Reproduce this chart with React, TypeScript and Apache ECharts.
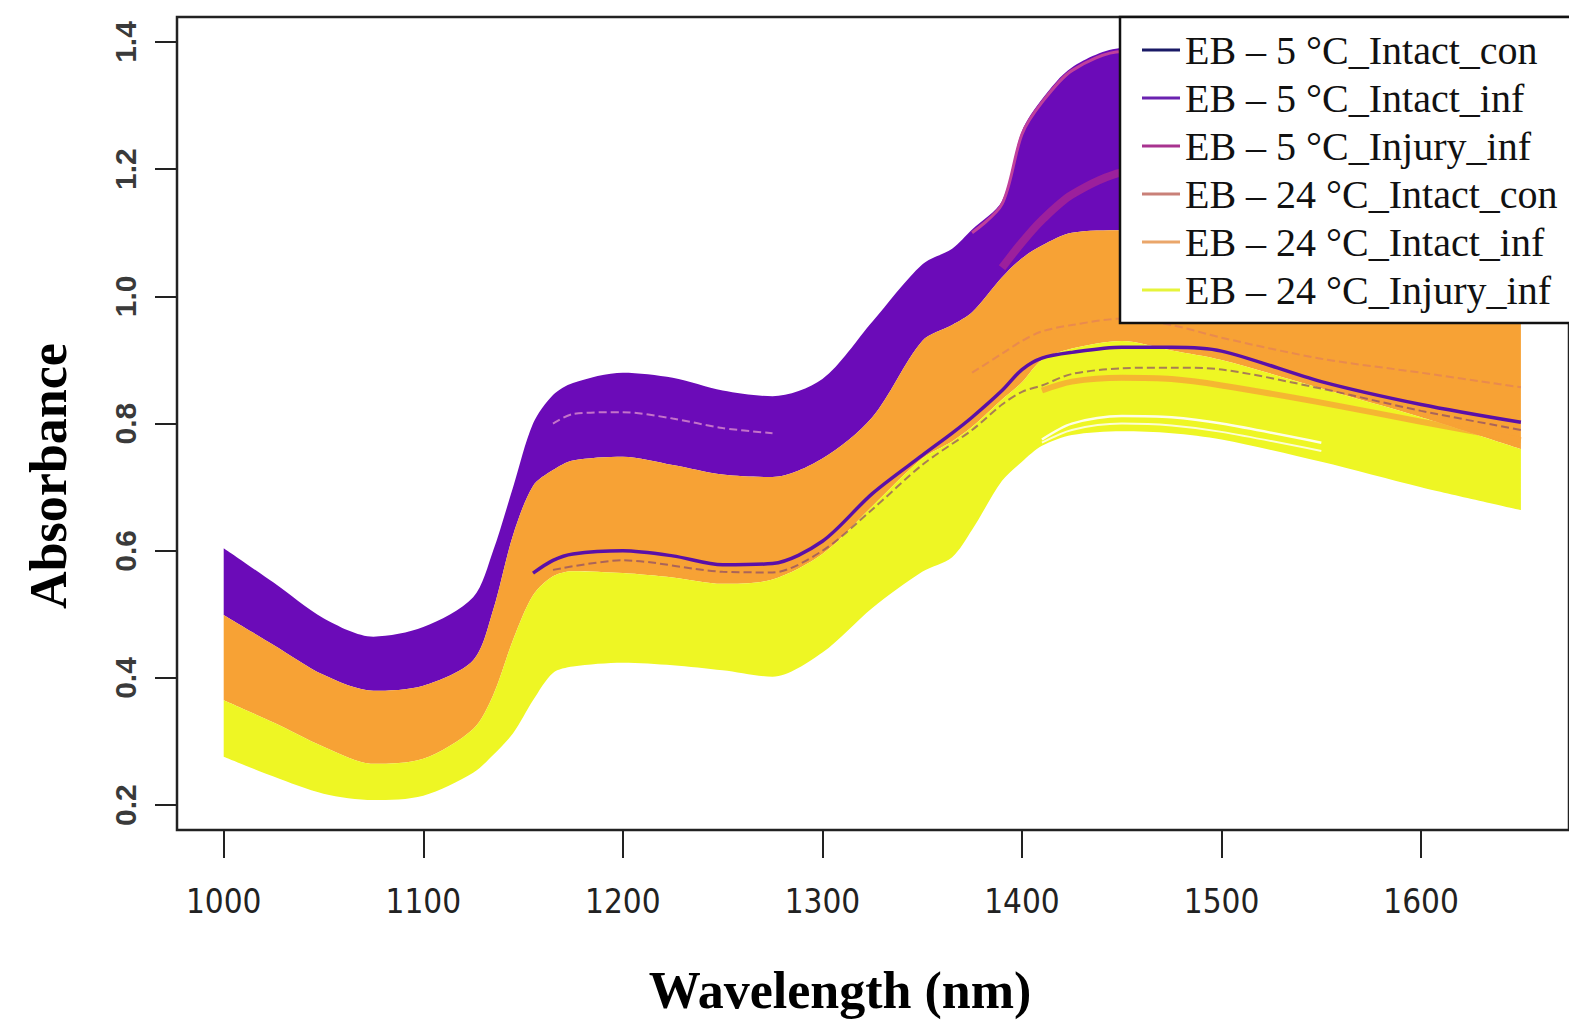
import React, { useEffect, useRef } from "react";
import * as echarts from "echarts";

// Wavelength sampling (nm) for the band envelopes
const wavelengths = [1000, 1025, 1050, 1075, 1100, 1125, 1135, 1145, 1155, 1165, 1175, 1200, 1225, 1250, 1275, 1300, 1325, 1350, 1365, 1375, 1390, 1400, 1410, 1425, 1450, 1475, 1500, 1550, 1600, 1650];

// Envelope of the EB – 5 °C spectra (upper edge)
const purpleTop = [0.604, 0.550, 0.494, 0.465, 0.480, 0.527, 0.600, 0.700, 0.800, 0.845, 0.864, 0.880, 0.872, 0.852, 0.843, 0.870, 0.960, 1.050, 1.075, 1.105, 1.150, 1.260, 1.310, 1.360, 1.390, 1.390, 1.370, 1.300, 1.220, 1.150];
// Upper edge of the EB – 24 °C intact spectra
const orangeTop = [0.499, 0.452, 0.405, 0.380, 0.388, 0.428, 0.507, 0.625, 0.702, 0.727, 0.742, 0.748, 0.735, 0.720, 0.716, 0.745, 0.810, 0.930, 0.955, 0.975, 1.030, 1.060, 1.080, 1.100, 1.104, 1.100, 1.080, 1.050, 1.020, 0.990];
// Upper edge of the EB – 24 °C injury spectra
const yellowTop = [0.365, 0.330, 0.292, 0.265, 0.273, 0.320, 0.373, 0.460, 0.530, 0.560, 0.568, 0.565, 0.558, 0.548, 0.555, 0.595, 0.670, 0.745, 0.772, 0.795, 0.838, 0.865, 0.900, 0.918, 0.930, 0.915, 0.900, 0.855, 0.810, 0.760];
// Lower edge of all spectra
const yellowBottom = [0.276, 0.245, 0.218, 0.208, 0.215, 0.251, 0.279, 0.313, 0.365, 0.408, 0.418, 0.424, 0.420, 0.412, 0.402, 0.440, 0.510, 0.567, 0.590, 0.633, 0.710, 0.740, 0.765, 0.782, 0.788, 0.785, 0.775, 0.740, 0.700, 0.664];

// Individual spectra that stand out
const navyWavelengths = [1155, 1165, 1175, 1200, 1225, 1250, 1275, 1300, 1325, 1350, 1365, 1375, 1390, 1400, 1410, 1425, 1450, 1475, 1500, 1550, 1600, 1650];
const navyValues = [0.565, 0.585, 0.595, 0.600, 0.592, 0.578, 0.580, 0.615, 0.690, 0.750, 0.785, 0.810, 0.852, 0.885, 0.903, 0.912, 0.920, 0.920, 0.914, 0.866, 0.830, 0.802];

const magentaTopWavelengths = [1375, 1390, 1400, 1410, 1425, 1450, 1475, 1500, 1550, 1600, 1650];
const magentaTopValues = [1.100, 1.145, 1.255, 1.305, 1.355, 1.385, 1.385, 1.365, 1.295, 1.215, 1.145];
const magentaMidWavelengths = [1390, 1400, 1410, 1425, 1450, 1475, 1500, 1550, 1600, 1650];
const magentaMidValues = [1.045, 1.085, 1.120, 1.160, 1.195, 1.200, 1.180, 1.120, 1.060, 1.000];

const salmonUpperWavelengths = [1375, 1390, 1400, 1410, 1425, 1450, 1475, 1500, 1550, 1600, 1650];
const salmonUpperValues = [0.880, 0.910, 0.930, 0.945, 0.955, 0.965, 0.955, 0.935, 0.902, 0.880, 0.857];
const salmonLowerWavelengths = [1165, 1200, 1250, 1275, 1300, 1325, 1350, 1375, 1390, 1400, 1410, 1425, 1450, 1475, 1500, 1550, 1600, 1650];
const salmonLowerValues = [0.570, 0.585, 0.567, 0.566, 0.600, 0.665, 0.735, 0.790, 0.830, 0.850, 0.860, 0.878, 0.887, 0.888, 0.885, 0.855, 0.820, 0.790];
const streakWavelengths = [1165, 1175, 1200, 1225, 1250, 1275];
const streakValues = [0.800, 0.815, 0.818, 0.808, 0.793, 0.785];

// Orange spectra running through the top of the yellow band
const orangeStripWavelengths = [1410, 1425, 1450, 1475, 1500, 1550, 1600, 1650];
const orangeStripValues = [0.852, 0.866, 0.872, 0.870, 0.860, 0.833, 0.803, 0.774];

const gapWavelengths = [1410, 1425, 1450, 1475, 1500, 1550];
const gapValuesA = [0.775, 0.800, 0.812, 0.810, 0.800, 0.770];
const gapValuesB = [0.770, 0.790, 0.800, 0.797, 0.787, 0.757];

const xTicks = [1000, 1100, 1200, 1300, 1400, 1500, 1600];
const yTicks = [0.2, 0.4, 0.6, 0.8, 1.0, 1.2, 1.4];

const groupNames = [
  "EB – 5 °C_Intact_con",
  "EB – 5 °C_Intact_inf",
  "EB – 5 °C_Injury_inf",
  "EB – 24 °C_Intact_con",
  "EB – 24 °C_Intact_inf",
  "EB – 24 °C_Injury_inf",
];
const legendColors = ["#1a1a66", "#6a22b0", "#a8338f", "#c98078", "#eaa66a", "#e6f43a"];

const PURPLE = "#6b0bb8";
const ORANGE = "#f7a235";
const YELLOW = "#eef624";

const pairs = (xs: number[], ys: number[]) => xs.map((x, i) => [x, ys[i]]);

// A band between two envelopes, drawn as a stacked area. The value is put in
// the first dimension so that ECharts stacks on the y (value) axis.
function band(name: string, stackId: string, lower: number[], upper: number[], color: string) {
  const common = {
    type: "line",
    stack: stackId,
    symbol: "none",
    smooth: 0.3,
    encode: { x: 1, y: 0 },
    silent: true,
    lineStyle: { width: 0, opacity: 0 },
  };
  return [
    { ...common, name: stackId + "_base", data: wavelengths.map((w, i) => [lower[i], w]) },
    {
      ...common,
      name,
      data: wavelengths.map((w, i) => [upper[i] - lower[i], w]),
      areaStyle: { color, opacity: 1 },
    },
  ];
}

function line(name: string, xs: number[], ys: number[], color: string, width: number, opts: any = {}) {
  return {
    name,
    type: "line",
    data: pairs(xs, ys),
    symbol: "none",
    smooth: 0.3,
    lineStyle: { color, width, ...opts },
    silent: true,
  };
}

export default function App() {
  const ref = useRef<HTMLDivElement>(null);
  useEffect(() => {
    if (!ref.current) return;
    const chart = echarts.init(ref.current, null, { renderer: "svg" });
    const option: any = {
      animation: false,
      backgroundColor: "#ffffff",
      grid: {
        show: true,
        left: 177,
        top: 17,
        width: 1400,
        height: 813,
        borderColor: "#222",
        borderWidth: 2.5,
        backgroundColor: "transparent",
        z: 3,
      },
      xAxis: {
        type: "value",
        min: 976.6,
        max: 1674.1,
        axisLine: { show: false },
        splitLine: { show: false },
        axisTick: {
          show: true,
          inside: false,
          length: 28,
          customValues: xTicks,
          lineStyle: { color: "#222", width: 2 },
        },
        axisLabel: {
          customValues: xTicks,
          margin: 55,
          fontSize: 33,
          fontFamily: "'Liberation Sans Narrow', 'DejaVu Sans Condensed', 'Liberation Sans', sans-serif",
          color: "#222",
          formatter: (v: number) => String(v),
        },
      },
      yAxis: {
        type: "value",
        min: 0.161,
        max: 1.4393,
        axisLine: { show: false },
        splitLine: { show: false },
        axisTick: {
          show: true,
          inside: false,
          length: 22,
          customValues: yTicks,
          lineStyle: { color: "#222", width: 2 },
        },
        axisLabel: {
          customValues: yTicks,
          rotate: 90,
          margin: 37,
          fontSize: 30,
          fontWeight: "bold",
          fontFamily: "'Liberation Sans', Arial, sans-serif",
          color: "#3a3a3a",
          formatter: (v: number) => v.toFixed(1),
        },
      },
      legend: {
        show: true,
        orient: "vertical",
        left: 1120,
        top: 17,
        backgroundColor: "#ffffff",
        borderColor: "#111",
        borderWidth: 2.5,
        borderRadius: 0,
        padding: [12, 40, 12, 22],
        itemGap: 6,
        itemWidth: 38,
        itemHeight: 3,
        icon: "rect",
        selectedMode: false,
        z: 10,
        textStyle: {
          fontFamily: "'Liberation Serif', 'Times New Roman', serif",
          fontSize: 40,
          lineHeight: 42,
          color: "#111",
        },
        data: groupNames.map((n, i) => ({ name: n, icon: "rect", itemStyle: { color: legendColors[i] } })),
      },
      graphic: [
        {
          type: "text",
          x: 48,
          y: 476,
          rotation: Math.PI / 2,
          style: {
            text: "Absorbance",
            fontSize: 52,
            fontWeight: "bold",
            fontFamily: "'Liberation Serif', 'Times New Roman', serif",
            fill: "#000",
            align: "center",
            verticalAlign: "middle",
          },
        },
        {
          type: "text",
          x: 840,
          y: 990,
          style: {
            text: "Wavelength (nm)",
            fontSize: 52,
            fontWeight: "bold",
            fontFamily: "'Liberation Serif', 'Times New Roman', serif",
            fill: "#000",
            align: "center",
            verticalAlign: "middle",
          },
        },
      ],
      series: [
        ...band(groupNames[1], "purple", orangeTop, purpleTop, PURPLE),
        line(groupNames[2], magentaMidWavelengths, magentaMidValues, "#b12a90", 8, { opacity: 0.7 }),
        line(groupNames[2], magentaTopWavelengths, magentaTopValues, "#c0409c", 3),
        line(groupNames[3], streakWavelengths, streakValues, "#e9a0d0", 2, { type: "dashed", opacity: 0.7 }),
        ...band(groupNames[4], "orange", yellowTop, orangeTop, ORANGE),
        ...band(groupNames[5], "yellow", yellowBottom, yellowTop, YELLOW),
        line(groupNames[4], orangeStripWavelengths, orangeStripValues, ORANGE, 6, { opacity: 0.75 }),
        line("gapA", gapWavelengths, gapValuesA, "#ffffff", 2.5, { opacity: 0.9 }),
        line("gapB", gapWavelengths, gapValuesB, "#ffffff", 2, { opacity: 0.8 }),
        line(groupNames[3], salmonUpperWavelengths, salmonUpperValues, "#e07a5f", 2, { type: "dashed", opacity: 0.6 }),
        line(groupNames[3], salmonLowerWavelengths, salmonLowerValues, "#8a4a6a", 2, { type: "dashed", opacity: 0.7 }),
        line(groupNames[0], navyWavelengths, navyValues, "#5a10a8", 3.5),
      ],
    };
    chart.setOption(option);
    return () => chart.dispose();
  }, []);
  return <div ref={ref} style={{ position: "absolute", left: 0, top: 0, width: 1569, height: 1023 }} />;
}
